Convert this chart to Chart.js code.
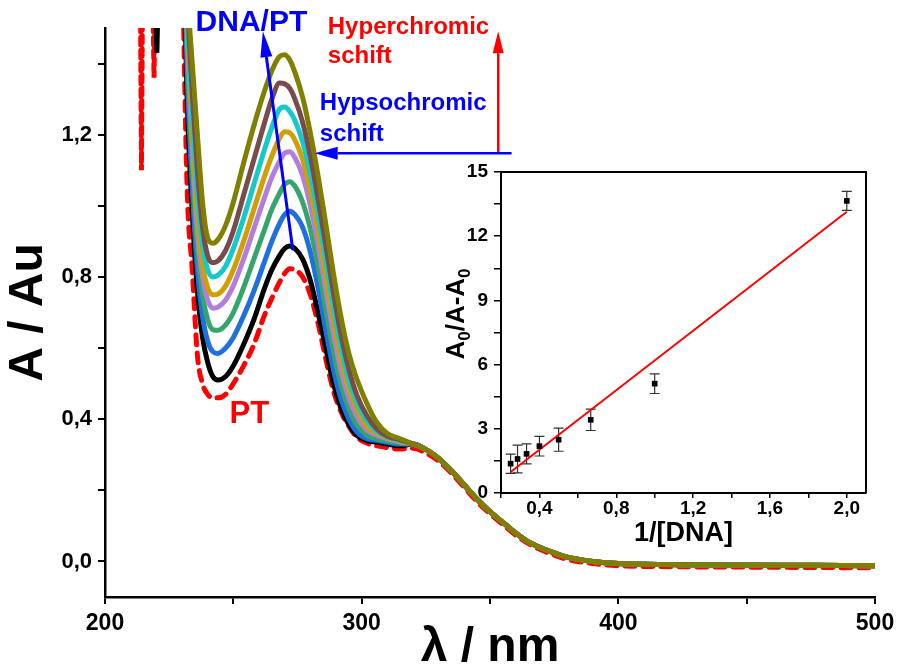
<!DOCTYPE html>
<html>
<head>
<meta charset="utf-8">
<script src="https://cdn.jsdelivr.net/npm/chart.js@4.4.1/dist/chart.umd.min.js"></script>
<style>
  body { margin: 0; background: #fff; }
  #wrap { position: relative; width: 901px; height: 668px; }
  #mainChart { position: absolute; left: 0; top: 0; }
  #insetChart { position: absolute; left: 440px; top: 150px; }
</style>
</head>
<body>
<div id="wrap">
  <canvas id="mainChart" width="901" height="668"></canvas>
  <canvas id="insetChart" width="440" height="405"></canvas>
</div>
<script>
// wavelength grid (nm)
const wavelengths = [230, 232, 234, 236, 238, 240, 242, 244, 247, 250, 254, 258, 262, 265, 268, 270, 272, 274, 277, 280,
  283, 286, 289, 292, 295, 298, 302, 306, 310, 315,
  320, 325, 330, 335, 340, 345, 350, 355, 360, 365, 370, 375, 380, 390, 400, 425, 450, 475, 500];

// absorbance 230-315 nm, one array per spectrum
const absPT   = [1.75, 1.05, 0.82, 0.58, 0.50, 0.47, 0.46, 0.46, 0.47, 0.50, 0.55, 0.61, 0.69, 0.74, 0.785, 0.81, 0.823, 0.82, 0.80, 0.75, 0.67, 0.57, 0.48, 0.42, 0.38, 0.35, 0.333, 0.325, 0.32, 0.316];
const absDNA1 = [1.90, 1.30, 0.98, 0.76, 0.63, 0.56, 0.52, 0.51, 0.52, 0.55, 0.61, 0.68, 0.765, 0.82, 0.86, 0.88, 0.887, 0.88, 0.85, 0.79, 0.70, 0.60, 0.50, 0.43, 0.385, 0.355, 0.34, 0.335, 0.33, 0.325];
const absDNA2 = [1.95, 1.38, 1.05, 0.82, 0.69, 0.62, 0.59, 0.585, 0.60, 0.63, 0.69, 0.76, 0.84, 0.90, 0.95, 0.975, 0.985, 0.975, 0.94, 0.87, 0.77, 0.65, 0.54, 0.455, 0.40, 0.365, 0.345, 0.34, 0.335, 0.33];
const absDNA3 = [1.98, 1.45, 1.12, 0.88, 0.75, 0.68, 0.652, 0.65, 0.665, 0.70, 0.77, 0.85, 0.93, 0.99, 1.035, 1.06, 1.068, 1.055, 1.01, 0.935, 0.83, 0.71, 0.59, 0.495, 0.43, 0.385, 0.355, 0.345, 0.34, 0.333];
const absDNA4 = [2.0, 1.50, 1.17, 0.93, 0.80, 0.735, 0.712, 0.715, 0.735, 0.775, 0.85, 0.935, 1.02, 1.08, 1.125, 1.148, 1.152, 1.135, 1.085, 1.00, 0.89, 0.765, 0.64, 0.535, 0.46, 0.41, 0.37, 0.355, 0.345, 0.336];
const absDNA5 = [2.0, 1.53, 1.21, 0.97, 0.835, 0.77, 0.75, 0.752, 0.775, 0.82, 0.90, 0.99, 1.08, 1.14, 1.19, 1.208, 1.205, 1.185, 1.13, 1.04, 0.93, 0.80, 0.675, 0.565, 0.485, 0.43, 0.38, 0.36, 0.348, 0.338];
const absDNA6 = [2.0, 1.56, 1.26, 1.03, 0.89, 0.82, 0.80, 0.805, 0.83, 0.88, 0.965, 1.06, 1.155, 1.22, 1.272, 1.278, 1.265, 1.24, 1.18, 1.09, 0.975, 0.845, 0.715, 0.60, 0.51, 0.45, 0.395, 0.365, 0.35, 0.34];
const absDNA7 = [2.0, 1.59, 1.32, 1.10, 0.94, 0.86, 0.84, 0.845, 0.875, 0.93, 1.03, 1.13, 1.23, 1.30, 1.345, 1.343, 1.33, 1.30, 1.235, 1.14, 1.02, 0.89, 0.755, 0.635, 0.54, 0.47, 0.41, 0.372, 0.352, 0.342];
const absDNA8 = [2.0, 1.62, 1.40, 1.20, 1.01, 0.91, 0.895, 0.905, 0.945, 1.01, 1.12, 1.225, 1.32, 1.38, 1.42, 1.425, 1.41, 1.375, 1.305, 1.205, 1.085, 0.95, 0.81, 0.685, 0.585, 0.515, 0.445, 0.39, 0.36, 0.345];

// 320-500 nm, where the spectra overlap
const tailDNA = [0.33, 0.315, 0.29, 0.255, 0.215, 0.175, 0.14, 0.11, 0.08, 0.055, 0.038, 0.024, 0.012, 0.0, -0.006, -0.009, -0.01, -0.011, -0.012];
const tailPT  = [0.318, 0.305, 0.282, 0.248, 0.208, 0.168, 0.134, 0.104, 0.074, 0.05, 0.032, 0.018, 0.006, -0.006, -0.012, -0.015, -0.016, -0.017, -0.018];

// noisy readings below 222 nm
const ptNoiseX = [213.8, 214.2, 214.6, 216.5, 218.6, 219.1, 219.6];
const ptNoiseY = [1.62, 1.10, 1.62, null, 1.62, 1.36, 1.62];
const dna1NoiseX = [219.6, 220.2, 220.8];
const dna1NoiseY = [1.62, 1.43, 1.62];

const xTicks = [200, 250, 300, 350, 400, 450, 500];
const xLabels = [200, 300, 400, 500];
const yTicks = [0, 0.2, 0.4, 0.6, 0.8, 1.0, 1.2, 1.4];
const yLabels = [0, 0.4, 0.8, 1.2];

// inset: Benesi-Hildebrand plot
const invDNA = [0.25, 0.286, 0.333, 0.4, 0.5, 0.667, 1.0, 2.0];
const ratio = [1.37, 1.59, 1.83, 2.19, 2.49, 3.42, 5.11, 13.65];
const ratioErr = [0.45, 0.65, 0.47, 0.46, 0.54, 0.50, 0.46, 0.44];
const fitX = [0.25, 2.0];
const fitY = [0.98, 13.14];
const insetXTicks = [0.2, 0.4, 0.6, 0.8, 1.0, 1.2, 1.4, 1.6, 1.8, 2.0];
const insetXLabels = [0.4, 0.8, 1.2, 1.6, 2.0];
const insetYTicks = [0, 1.5, 3, 4.5, 6, 7.5, 9, 10.5, 12, 13.5, 15];
const insetYLabels = [0, 3, 6, 9, 12, 15];

const FONT = '"Liberation Sans", Arial, sans-serif';
Chart.defaults.font.family = FONT;
Chart.defaults.color = '#000';

const has = (list, v) => list.some(l => Math.abs(l - v) < 1e-6);
const comma = (v, d) => v.toFixed(d).replace('.', ',');
const pts = (xs, ys) => xs.map((x, i) => ({ x: x, y: ys[i] }));

// drawn first = listed last
const spectra = [
  { vals: absDNA8.concat(tailDNA), color: '#808000' },
  { vals: absDNA7.concat(tailDNA), color: '#7a4b4b' },
  { vals: absDNA6.concat(tailDNA), color: '#13c9c9' },
  { vals: absDNA5.concat(tailDNA), color: '#d09e05' },
  { vals: absDNA4.concat(tailDNA), color: '#b27ddd' },
  { vals: absDNA3.concat(tailDNA), color: '#35a56c' },
  { vals: absDNA2.concat(tailDNA), color: '#1f6fde' },
  { vals: absDNA1.concat(tailDNA), color: '#000000' }
];

const datasets = spectra.map(s => ({
  data: pts(wavelengths, s.vals),
  borderColor: s.color,
  borderWidth: 5,
  pointRadius: 0,
  cubicInterpolationMode: 'monotone'
}));
datasets.push({
  data: pts(dna1NoiseX, dna1NoiseY),
  borderColor: '#000', borderWidth: 5, pointRadius: 0
});
datasets.push({
  data: pts(wavelengths, absPT.concat(tailPT)),
  borderColor: '#ff0000', borderWidth: 5, borderDash: [10, 8], borderCapStyle: 'round',
  pointRadius: 0, cubicInterpolationMode: 'monotone'
});
datasets.push({
  data: pts(ptNoiseX, ptNoiseY),
  borderColor: '#ff0000', borderWidth: 5, borderDash: [8, 5], borderCapStyle: 'round', pointRadius: 0
});

function arrow(ctx, x1, y1, x2, y2, color, width, headLen, headHalf) {
  const a = Math.atan2(y2 - y1, x2 - x1);
  const bx = x2 - headLen * Math.cos(a), by = y2 - headLen * Math.sin(a);
  ctx.strokeStyle = color;
  ctx.lineWidth = width;
  ctx.beginPath();
  ctx.moveTo(x1, y1);
  ctx.lineTo(bx, by);
  ctx.stroke();
  ctx.fillStyle = color;
  ctx.beginPath();
  ctx.moveTo(x2, y2);
  ctx.lineTo(bx + headHalf * Math.sin(a), by - headHalf * Math.cos(a));
  ctx.lineTo(bx - headHalf * Math.sin(a), by + headHalf * Math.cos(a));
  ctx.closePath();
  ctx.fill();
}

// arrows and labels, placed in data units
const annotate = {
  id: 'annotate',
  afterDatasetsDraw(chart) {
    const { ctx, scales: { x, y } } = chart;
    ctx.save();
    arrow(ctx, x.getPixelForValue(273.2), y.getPixelForValue(0.875),
      x.getPixelForValue(261.5), y.getPixelForValue(1.491), '#0000ff', 3, 26, 6);
    arrow(ctx, x.getPixelForValue(353.2), y.getPixelForValue(1.148),
      x.getPixelForValue(353.2), y.getPixelForValue(1.491), '#ff0000', 2.5, 22, 5.5);
    arrow(ctx, x.getPixelForValue(358.4), y.getPixelForValue(1.148),
      x.getPixelForValue(281.7), y.getPixelForValue(1.148), '#0000ff', 2.5, 23, 6.5);

    const text = (str, wl, a, color, size) => {
      ctx.font = 'bold ' + size + 'px ' + FONT;
      ctx.fillStyle = color;
      ctx.textAlign = 'left';
      ctx.textBaseline = 'alphabetic';
      ctx.fillText(str, x.getPixelForValue(wl), y.getPixelForValue(a));
    };
    text('DNA/PT', 235.3, 1.491, '#0000ff', 30);
    text('PT', 248.5, 0.39, '#ff0000', 31);
    text('Hyperchromic', 286.8, 1.484, '#ff0000', 24);
    text('schift', 286.8, 1.402, '#ff0000', 24);
    text('Hypsochromic', 283.7, 1.270, '#0000ff', 24);
    text('schift', 283.7, 1.181, '#0000ff', 24);
    ctx.restore();
  }
};

new Chart(document.getElementById('mainChart'), {
  type: 'line',
  data: { datasets: datasets },
  options: {
    responsive: false,
    animation: false,
    events: [],
    layout: { padding: { top: 28, right: 26, left: 0, bottom: 0 } },
    plugins: { legend: { display: false }, tooltip: { enabled: false } },
    scales: {
      x: {
        type: 'linear', min: 200, max: 500,
        afterBuildTicks: s => { s.ticks = xTicks.map(v => ({ value: v })); },
        afterFit: s => { s.height = 71; },
        ticks: {
          callback: v => has(xLabels, v) ? String(v) : '',
          font: { size: 23, weight: 'bold' }, padding: 6, maxRotation: 0, autoSkip: false
        },
        grid: { drawOnChartArea: false, drawTicks: true, tickLength: 7, color: '#000', lineWidth: 2 },
        border: { color: '#000', width: 2.5 },
        title: {
          display: true, text: 'λ / nm',
          font: { size: 48, weight: 'bold', lineHeight: 0.8 }, padding: { top: 0, bottom: 1 }
        }
      },
      y: {
        type: 'linear', min: -0.1, max: 1.5,
        afterBuildTicks: s => { s.ticks = yTicks.map(v => ({ value: v })); },
        afterFit: s => { s.width = 105; },
        ticks: {
          callback: v => has(yLabels, v) ? comma(v, 1) : '',
          font: { size: 22, weight: 'bold' }, padding: 6, autoSkip: false
        },
        grid: { drawOnChartArea: false, drawTicks: true, tickLength: 7, color: '#000', lineWidth: 2 },
        border: { color: '#000', width: 2.5 },
        title: {
          display: true, text: 'A / Au',
          font: { size: 48, weight: 'bold', lineHeight: 1.1 }, padding: { top: 2, bottom: 0 }
        }
      }
    }
  },
  plugins: [annotate]
});

// inset extras: error bars, frame, y title with subscripts
const insetExtras = {
  id: 'insetExtras',
  beforeDatasetsDraw(chart) {
    const { ctx, scales: { x, y } } = chart;
    ctx.save();
    ctx.strokeStyle = '#333';
    ctx.lineWidth = 1.2;
    invDNA.forEach((v, i) => {
      const px = x.getPixelForValue(v);
      const top = y.getPixelForValue(ratio[i] + ratioErr[i]);
      const bot = y.getPixelForValue(ratio[i] - ratioErr[i]);
      ctx.beginPath();
      ctx.moveTo(px, top); ctx.lineTo(px, bot);
      ctx.moveTo(px - 5, top); ctx.lineTo(px + 5, top);
      ctx.moveTo(px - 5, bot); ctx.lineTo(px + 5, bot);
      ctx.stroke();
    });
    ctx.restore();
  },
  afterDraw(chart) {
    const { ctx, chartArea: a } = chart;
    ctx.save();
    ctx.strokeStyle = '#000';
    ctx.lineWidth = 2;
    ctx.beginPath();
    ctx.moveTo(a.left, a.top); ctx.lineTo(a.right, a.top); ctx.lineTo(a.right, a.bottom);
    ctx.stroke();

    ctx.translate(24, 164);
    ctx.rotate(-Math.PI / 2);
    const big = 'bold 26px ' + FONT, small = 'bold 17px ' + FONT;
    const parts = [['A', big, 0], ['0', small, 6], ['/A-A', big, 0], ['0', small, 6]];
    let total = 0;
    parts.forEach(p => { ctx.font = p[1]; total += ctx.measureText(p[0]).width; });
    let cx = -total / 2;
    ctx.fillStyle = '#000';
    ctx.textBaseline = 'alphabetic';
    parts.forEach(p => {
      ctx.font = p[1];
      ctx.fillText(p[0], cx, p[2]);
      cx += ctx.measureText(p[0]).width;
    });
    ctx.restore();
  }
};

new Chart(document.getElementById('insetChart'), {
  type: 'scatter',
  data: {
    datasets: [
      {
        data: pts(invDNA, ratio),
        pointStyle: 'rect', pointRadius: 4,
        backgroundColor: '#000', borderColor: '#000', borderWidth: 0
      },
      {
        data: pts(fitX, fitY),
        showLine: true, borderColor: '#ff0000', borderWidth: 2, pointRadius: 0
      }
    ]
  },
  options: {
    responsive: false,
    animation: false,
    events: [],
    layout: { padding: { top: 22, right: 14, left: 0, bottom: 0 } },
    plugins: { legend: { display: false }, tooltip: { enabled: false } },
    scales: {
      x: {
        type: 'linear', min: 0.2, max: 2.1,
        afterBuildTicks: s => { s.ticks = insetXTicks.map(v => ({ value: v })); },
        afterFit: s => { s.height = 62; },
        ticks: {
          callback: v => has(insetXLabels, v) ? comma(v, 1) : '',
          font: { size: 19, weight: 'bold' }, padding: -1, maxRotation: 0, autoSkip: false
        },
        grid: { drawOnChartArea: false, drawTicks: true, tickLength: 5, color: '#000', lineWidth: 1.5 },
        border: { color: '#000', width: 2 },
        title: {
          display: true, text: '1/[DNA]',
          font: { size: 27, weight: 'bold', lineHeight: 1.2 }, padding: { top: 0, bottom: 5 }
        }
      },
      y: {
        type: 'linear', min: 0, max: 15,
        afterBuildTicks: s => { s.ticks = insetYTicks.map(v => ({ value: v })); },
        afterFit: s => { s.width = 61; },
        ticks: {
          callback: v => has(insetYLabels, v) ? String(v) : '',
          font: { size: 19, weight: 'bold' }, padding: 6, autoSkip: false
        },
        grid: { drawOnChartArea: false, drawTicks: true, tickLength: 7, color: '#000', lineWidth: 1.5 },
        border: { color: '#000', width: 2 }
      }
    }
  },
  plugins: [insetExtras]
});
</script>
</body>
</html>
